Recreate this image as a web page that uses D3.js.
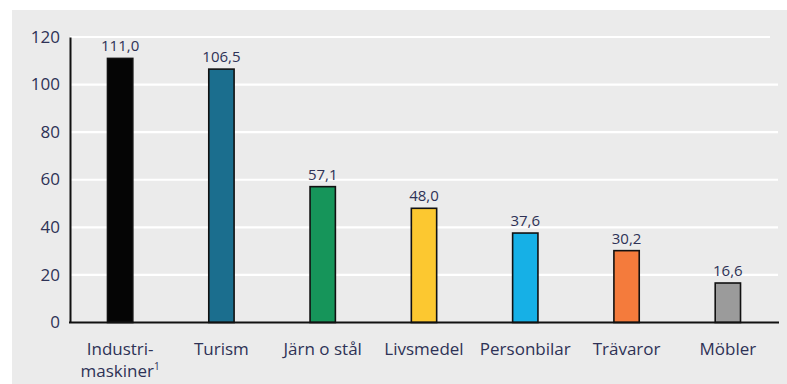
<!DOCTYPE html>
<html>
<head>
<meta charset="utf-8">
<script src="https://cdn.jsdelivr.net/npm/d3@7"></script>
<style>
  html, body { margin: 0; padding: 0; background: #ffffff; }
  svg { display: block; }
  text { font-family: "Open Sans", "Noto Sans", sans-serif; }
</style>
</head>
<body>
<svg id="chart" width="787" height="384"></svg>
<script>
// Export values per product group
const categories = ["Industri-maskiner", "Turism", "Järn o stål", "Livsmedel", "Personbilar", "Trävaror", "Möbler"];
const values = [111.0, 106.5, 57.1, 48.0, 37.6, 30.2, 16.6];
const valueLabels = ["111,0", "106,5", "57,1", "48,0", "37,6", "30,2", "16,6"];
const barColors = ["#050505", "#1b6e8e", "#16955a", "#fcc830", "#16b0e6", "#f47b3c", "#9b9b9b"];
const yTicks = [0, 20, 40, 60, 80, 100, 120];

const svg = d3.select("#chart");
const W = 787, H = 384;
const textColor = "#2e3256";

// panel background
svg.append("rect").attr("x", 12).attr("y", 10).attr("width", W - 12).attr("height", H - 10)
  .attr("fill", "#ebebeb");

const x = d3.scaleBand().domain(categories).range([69.5, 778.5])
  .paddingInner(0.75).paddingOuter(0.375);
const y = d3.scaleLinear().domain([0, 120]).range([322.5, 37]);

// horizontal grid
svg.append("g").selectAll("line").data(yTicks.filter(d => d > 0)).join("line")
  .attr("x1", 70).attr("x2", d => d === 120 ? 770 : 778)
  .attr("y1", d => y(d)).attr("y2", d => y(d))
  .attr("stroke", "#ffffff").attr("stroke-width", 2.2);

// y axis
const yAxis = d3.axisLeft(y).tickValues(yTicks).tickSize(0).tickPadding(10);
const gy = svg.append("g").attr("transform", "translate(70,0)").call(yAxis);
gy.select(".domain").attr("stroke", "#111").attr("stroke-width", 2);
gy.selectAll("text").attr("font-size", 17).attr("fill", textColor).attr("dy", "0.3em");

// bars
svg.append("g").selectAll("rect").data(values).join("rect")
  .attr("x", (d, i) => x(categories[i]))
  .attr("y", d => y(d))
  .attr("width", x.bandwidth())
  .attr("height", d => y(0) - y(d))
  .attr("fill", (d, i) => barColors[i])
  .attr("stroke", "#111").attr("stroke-width", 1.6);

// value labels
svg.append("g").selectAll("text").data(values).join("text")
  .attr("x", (d, i) => x(categories[i]) + x.bandwidth() / 2)
  .attr("y", d => y(d) - 7)
  .attr("text-anchor", "middle")
  .attr("font-size", 15)
  .attr("fill", textColor)
  .text((d, i) => valueLabels[i]);

// x axis baseline
svg.append("line").attr("x1", 69).attr("x2", 779)
  .attr("y1", y(0)).attr("y2", y(0))
  .attr("stroke", "#111").attr("stroke-width", 2);

// category labels
const xl = svg.append("g").selectAll("text").data(categories).join("text")
  .attr("x", d => x(d) + x.bandwidth() / 2)
  .attr("y", 355)
  .attr("text-anchor", "middle")
  .attr("font-size", 17)
  .attr("fill", textColor);
xl.each(function(d) {
  const t = d3.select(this);
  const cx = x(d) + x.bandwidth() / 2;
  if (d === "Industri-maskiner") {
    t.append("tspan").attr("x", cx).text("Industri-");
    const t2 = t.append("tspan").attr("x", cx).attr("dy", 22).text("maskiner");
    t2.append("tspan").attr("font-size", 10).attr("dy", -7).text("1");
  } else {
    t.text(d);
  }
});
</script>
</body>
</html>
